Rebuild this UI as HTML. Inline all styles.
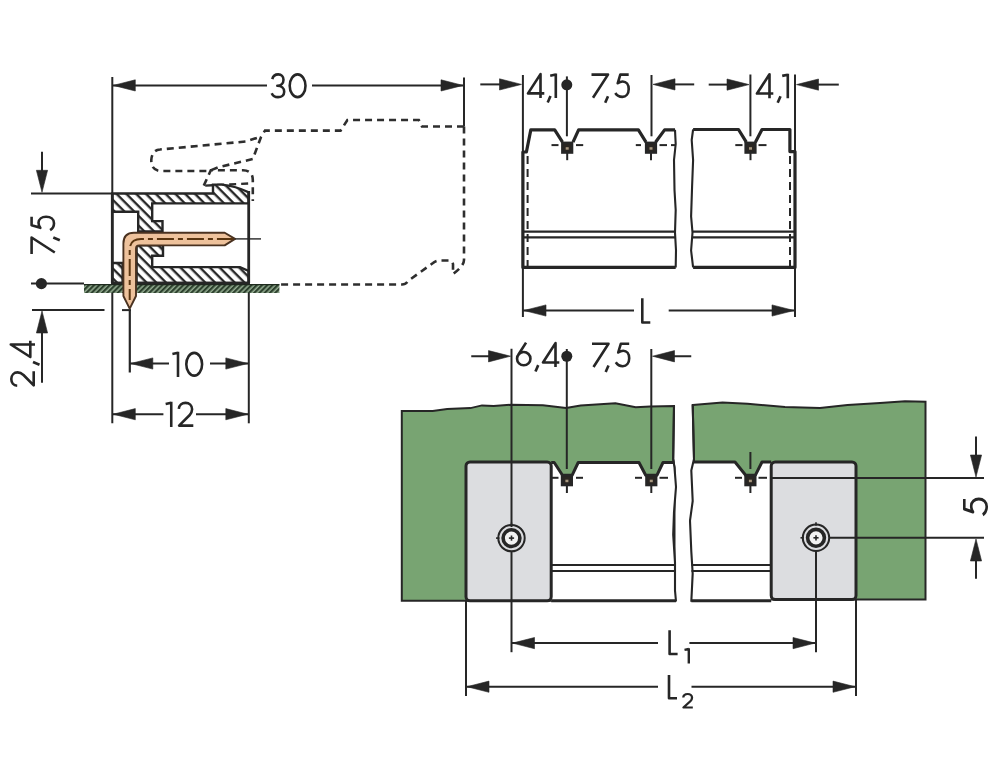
<!DOCTYPE html>
<html><head><meta charset="utf-8"><style>
html,body{margin:0;padding:0;background:#fff;overflow:hidden}
svg{display:block}
text{font-family:"Liberation Sans",sans-serif;fill:#262626}
</style></head><body>
<svg width="1000" height="772" viewBox="0 0 1000 772">
<rect width="1000" height="772" fill="#fff"/>
<defs>
<pattern id="h1" patternUnits="userSpaceOnUse" width="6.93" height="6.93" patternTransform="rotate(-45)"><rect width="6.93" height="6.93" fill="#fff"/><rect x="-0.39" y="0" width="2.3" height="6.93" fill="#222"/><rect x="6.54" y="0" width="2.3" height="6.93" fill="#222"/></pattern>
<pattern id="h2" patternUnits="userSpaceOnUse" width="3.71" height="3.71" patternTransform="rotate(45)"><rect width="3.71" height="3.71" fill="#2c402d"/><rect x="2.18" y="0" width="1.8" height="3.71" fill="#93ab90"/></pattern>
</defs>
<line x1="112.3" y1="77" x2="112.3" y2="423.3" stroke="#262626" stroke-width="2.0" />
<line x1="464" y1="77.5" x2="464" y2="126.5" stroke="#262626" stroke-width="2.0" />
<line x1="112.3" y1="85.4" x2="267" y2="85.4" stroke="#262626" stroke-width="2.0" />
<line x1="312" y1="85.4" x2="464" y2="85.4" stroke="#262626" stroke-width="2.0" />
<polygon points="113.3,85.4 135.3,79.8 135.3,91.0" fill="#262626" stroke="#262626" stroke-width="0.6" stroke-linejoin="round"/>
<polygon points="463.0,85.4 441.0,79.8 441.0,91.0" fill="#262626" stroke="#262626" stroke-width="0.6" stroke-linejoin="round"/>
<path transform="translate(270.5,73) scale(1.0,1.02)" d="M1.8,6 C2.5,2.8 5,1.3 7.8,1.3 C10.8,1.3 13,3.5 13,6.6 C13,10 10.5,12.5 6.8,12.5 C11,12.5 13.7,15 13.7,18.3 C13.7,21.6 11,23.7 7.5,23.7 C4.5,23.7 2.3,22.2 1.2,19.8" fill="none" stroke="#262626" stroke-width="2.57" stroke-linejoin="round"/>
<path transform="translate(288.4,73) scale(1.0,1.02)" d="M9.2,1.3 A7.9,11.2 0 1 1 9.2,23.7 A7.9,11.2 0 1 1 9.2,1.3 Z" fill="none" stroke="#262626" stroke-width="2.57" stroke-linejoin="round"/>
<line x1="31" y1="193.5" x2="112.3" y2="193.5" stroke="#262626" stroke-width="2.0" />
<line x1="42" y1="151.8" x2="42" y2="175" stroke="#262626" stroke-width="2.0" />
<polygon points="42.0,192.3 36.4,170.3 47.6,170.3" fill="#262626" stroke="#262626" stroke-width="0.6" stroke-linejoin="round"/>
<g transform="translate(30.3,254) rotate(-90)"><path transform="translate(0,0) scale(1.0,1)" d="M0,1.3 H16.5 L1.5,24.5" fill="none" stroke="#262626" stroke-width="2.6" stroke-linejoin="round"/><path transform="translate(13.7,0) scale(1.0,1)" d="M2.8,23 L0,29.5" fill="none" stroke="#262626" stroke-width="2.6" stroke-linejoin="round"/><path transform="translate(23,0) scale(1.0,1)" d="M14.2,1.3 H5.8 L3.2,10 C4.8,8.8 6.6,8.2 8.2,8.2 C11.8,8.2 14.2,11.5 14.2,15.8 C14.2,20.5 11.5,23.7 7.8,23.7 C4.6,23.7 2.2,22 0.8,19.8" fill="none" stroke="#262626" stroke-width="2.6" stroke-linejoin="round"/></g>
<circle cx="41.4" cy="283.6" r="5.6" fill="#262626"/>
<line x1="31" y1="283.6" x2="84" y2="283.6" stroke="#262626" stroke-width="2.0" />
<line x1="32" y1="310" x2="104.5" y2="310" stroke="#262626" stroke-width="2.0" />
<polygon points="42.0,311.0 36.4,333.0 47.6,333.0" fill="#262626" stroke="#262626" stroke-width="0.6" stroke-linejoin="round"/>
<line x1="42" y1="325" x2="42" y2="382.7" stroke="#262626" stroke-width="2.0" />
<g transform="translate(10,387) rotate(-90)"><path transform="translate(0,0) scale(1.0,1)" d="M1.3,7.2 C1.5,3.5 4.5,1.3 8,1.3 C11.8,1.3 14.6,4 14.6,7.6 C14.6,10 13.5,11.8 12,13.5 L1.6,23.7 H15.8" fill="none" stroke="#262626" stroke-width="2.6" stroke-linejoin="round"/><path transform="translate(22.2,0) scale(1.0,1)" d="M2.8,23 L0,29.5" fill="none" stroke="#262626" stroke-width="2.6" stroke-linejoin="round"/><path transform="translate(29,0) scale(1.0,1)" d="M13.5,25 V0.8 L1,20.3 H17.3" fill="none" stroke="#262626" stroke-width="2.6" stroke-linejoin="round"/></g>
<line x1="129.8" y1="310" x2="129.8" y2="372.5" stroke="#262626" stroke-width="2.2" />
<line x1="248.8" y1="283" x2="248.8" y2="423.3" stroke="#262626" stroke-width="2.0" />
<line x1="129.8" y1="363.5" x2="169" y2="363.5" stroke="#262626" stroke-width="2.0" />
<line x1="210" y1="363.5" x2="248.8" y2="363.5" stroke="#262626" stroke-width="2.0" />
<polygon points="130.8,363.5 152.8,357.9 152.8,369.1" fill="#262626" stroke="#262626" stroke-width="0.6" stroke-linejoin="round"/>
<polygon points="247.8,363.5 225.8,357.9 225.8,369.1" fill="#262626" stroke="#262626" stroke-width="0.6" stroke-linejoin="round"/>
<path transform="translate(173,351.5) scale(1.0,1.02)" d="M-0.6,2.4 L5,1.2 M5,0.2 V25" fill="none" stroke="#262626" stroke-width="2.57" stroke-linejoin="round"/>
<path transform="translate(185,351.5) scale(1.0,1.02)" d="M9.2,1.3 A7.9,11.2 0 1 1 9.2,23.7 A7.9,11.2 0 1 1 9.2,1.3 Z" fill="none" stroke="#262626" stroke-width="2.57" stroke-linejoin="round"/>
<line x1="112.3" y1="414.2" x2="163.4" y2="414.2" stroke="#262626" stroke-width="2.0" />
<line x1="196" y1="414.2" x2="248.8" y2="414.2" stroke="#262626" stroke-width="2.0" />
<polygon points="113.3,414.2 135.3,408.6 135.3,419.8" fill="#262626" stroke="#262626" stroke-width="0.6" stroke-linejoin="round"/>
<polygon points="247.8,414.2 225.8,408.6 225.8,419.8" fill="#262626" stroke="#262626" stroke-width="0.6" stroke-linejoin="round"/>
<path transform="translate(166.25,401.5) scale(1.0,1.02)" d="M-0.6,2.4 L5,1.2 M5,0.2 V25" fill="none" stroke="#262626" stroke-width="2.57" stroke-linejoin="round"/>
<path transform="translate(177.5,401.5) scale(1.0,1.02)" d="M1.3,7.2 C1.5,3.5 4.5,1.3 8,1.3 C11.8,1.3 14.6,4 14.6,7.6 C14.6,10 13.5,11.8 12,13.5 L1.6,23.7 H15.8" fill="none" stroke="#262626" stroke-width="2.57" stroke-linejoin="round"/>
<path d="M464,126.5 V260 Q464,266 453,274 L453,264 Q452,260.5 449,260.5 H440 Q436,260.5 433,263 L408,281 Q406,284.5 402,284.5 H280" stroke="#2e2e2e" stroke-width="2.6" fill="none" stroke-dasharray="7 5" stroke-linecap="butt"/>
<path d="M464,126.5 H422 L418.8,120 H347.4 L340.6,130.6 H265 L261,137 L252.8,159 L217.8,167.4 L209,171 H160 Q151,170 151.3,160 Q152,150 160,149.5 L245.8,141.5 L261,136.6" stroke="#2e2e2e" stroke-width="2.6" fill="none" stroke-dasharray="7 5" stroke-linecap="butt"/>
<path d="M203.8,185.6 L210.8,170.2 H243 Q252.8,170.5 252.8,180 V201" stroke="#2e2e2e" stroke-width="2.6" fill="none" stroke-dasharray="7 5" stroke-linecap="butt"/>
<path d="M205.2,185.6 L248.6,183.5" stroke="#2e2e2e" stroke-width="2.4" fill="none" stroke-dasharray="7 5" stroke-linecap="butt"/>
<rect x="84" y="284.4" width="195.4" height="8.6" fill="url(#h2)"/>
<path d="M84,284.6 H279.4" stroke="#1e2a1e" stroke-width="1.2" fill="none" />
<path d="M112.3,193.5 H213 V184.6 H221.5 Q236,186 248.7,192.4 V203.4 H152.2 V221.1 H162.5 V231.5 H138.2 V211.8 H112.3 Z" stroke="#262626" stroke-width="2.4" fill="url(#h1)" />
<path d="M136.6,245.4 H163 V255.7 H152.2 V267.1 H240 L248.7,271 V283 H136.6 Z" stroke="#262626" stroke-width="2.4" fill="url(#h1)" />
<path d="M112.3,263 H122.6 V283 H112.3 Z" stroke="#262626" stroke-width="2.4" fill="url(#h1)" />
<line x1="112.3" y1="193.5" x2="112.3" y2="283" stroke="#262626" stroke-width="2.8" />
<line x1="248.7" y1="191" x2="248.7" y2="283" stroke="#262626" stroke-width="2.8" />
<line x1="112.3" y1="283" x2="248.7" y2="283" stroke="#262626" stroke-width="2.4" />
<path d="M235,238.9 L224.7,232.7 H134 Q123.4,232.7 123.4,243.5 V296 L129.7,308.6 L136.0,296 V248.6 Q136.0,245.4 139.2,245.4 H224.7 Z" stroke="#4a3220" stroke-width="1.9" fill="#eec29c" stroke-linejoin="round"/>
<path d="M129.7,300 V250 Q129.7,238.9 141,238.9 H233" stroke="#5a3510" stroke-width="2.0" fill="none" stroke-dasharray="17 4 5 4" stroke-dashoffset="6"/>
<line x1="235" y1="238.9" x2="261" y2="238.9" stroke="#262626" stroke-width="1.4" />
<line x1="122" y1="310.1" x2="131" y2="310.1" stroke="#262626" stroke-width="2" />
<line x1="522.9" y1="75" x2="522.9" y2="317" stroke="#262626" stroke-width="2.0" />
<line x1="795" y1="74.5" x2="795" y2="317" stroke="#262626" stroke-width="2.0" />
<line x1="480.3" y1="84.4" x2="500" y2="84.4" stroke="#262626" stroke-width="2.0" />
<polygon points="521.5,84.4 499.5,78.8 499.5,90.0" fill="#262626" stroke="#262626" stroke-width="0.6" stroke-linejoin="round"/>
<path transform="translate(527,73.3) scale(1.0,0.988)" d="M13.5,25 V0.8 L1,20.3 H17.3" fill="none" stroke="#262626" stroke-width="2.62" stroke-linejoin="round"/>
<path transform="translate(547.7,73.3) scale(1.0,0.988)" d="M2.8,23 L0,29.5" fill="none" stroke="#262626" stroke-width="2.62" stroke-linejoin="round"/>
<path transform="translate(550.8,73.3) scale(1.0,0.988)" d="M-0.6,2.4 L5,1.2 M5,0.2 V25" fill="none" stroke="#262626" stroke-width="2.62" stroke-linejoin="round"/>
<circle cx="566.8" cy="84.8" r="5.5" fill="#262626"/>
<line x1="566.9" y1="76.4" x2="566.9" y2="136.3" stroke="#262626" stroke-width="2.0" />
<path transform="translate(591.5,73.3) scale(1.0,0.996)" d="M0,1.3 H16.5 L1.5,24.5" fill="none" stroke="#262626" stroke-width="2.61" stroke-linejoin="round"/>
<path transform="translate(605.2,73.3) scale(1.0,0.996)" d="M2.8,23 L0,29.5" fill="none" stroke="#262626" stroke-width="2.61" stroke-linejoin="round"/>
<path transform="translate(614.5,73.3) scale(1.0,0.996)" d="M14.2,1.3 H5.8 L3.2,10 C4.8,8.8 6.6,8.2 8.2,8.2 C11.8,8.2 14.2,11.5 14.2,15.8 C14.2,20.5 11.5,23.7 7.8,23.7 C4.6,23.7 2.2,22 0.8,19.8" fill="none" stroke="#262626" stroke-width="2.61" stroke-linejoin="round"/>
<line x1="651.5" y1="75" x2="651.5" y2="136.3" stroke="#262626" stroke-width="2.0" />
<polygon points="653.0,84.4 675.0,78.8 675.0,90.0" fill="#262626" stroke="#262626" stroke-width="0.6" stroke-linejoin="round"/>
<line x1="670" y1="84.4" x2="694.2" y2="84.4" stroke="#262626" stroke-width="2.0" />
<line x1="708.7" y1="84.6" x2="730" y2="84.6" stroke="#262626" stroke-width="2.0" />
<polygon points="749.0,84.6 727.0,79.0 727.0,90.2" fill="#262626" stroke="#262626" stroke-width="0.6" stroke-linejoin="round"/>
<line x1="750.4" y1="74.5" x2="750.4" y2="136.3" stroke="#262626" stroke-width="2.0" />
<path transform="translate(756,73.5) scale(1.0,0.988)" d="M13.5,25 V0.8 L1,20.3 H17.3" fill="none" stroke="#262626" stroke-width="2.62" stroke-linejoin="round"/>
<path transform="translate(777.7,73.5) scale(1.0,0.988)" d="M2.8,23 L0,29.5" fill="none" stroke="#262626" stroke-width="2.62" stroke-linejoin="round"/>
<path transform="translate(782.8,73.5) scale(1.0,0.988)" d="M-0.6,2.4 L5,1.2 M5,0.2 V25" fill="none" stroke="#262626" stroke-width="2.62" stroke-linejoin="round"/>
<polygon points="796.5,84.6 818.5,79.0 818.5,90.2" fill="#262626" stroke="#262626" stroke-width="0.6" stroke-linejoin="round"/>
<line x1="815" y1="84.6" x2="838.8" y2="84.6" stroke="#262626" stroke-width="2.0" />
<line x1="522.9" y1="310.5" x2="634" y2="310.5" stroke="#262626" stroke-width="2.0" />
<line x1="668.7" y1="310.5" x2="795" y2="310.5" stroke="#262626" stroke-width="2.0" />
<polygon points="524.0,310.5 546.0,304.9 546.0,316.1" fill="#262626" stroke="#262626" stroke-width="0.6" stroke-linejoin="round"/>
<polygon points="794.0,310.5 772.0,304.9 772.0,316.1" fill="#262626" stroke="#262626" stroke-width="0.6" stroke-linejoin="round"/>
<path transform="translate(641,298.3) scale(1.0,1.02)" d="M1.3,0 V23.7 H9.3" fill="none" stroke="#262626" stroke-width="2.57" stroke-linejoin="round"/>
<path d="M675.7,267.4 H522.9 V152 H526.4 L530.8,129.9 H554.7 L562.5,142.2 M573,142.2 L578.6,129.9 H638.4 L646,142.2 M655.5,142.2 L664.6,129.9 H675" stroke="#262626" stroke-width="3.2" fill="none" stroke-linejoin="round"/>
<path d="M675,129.9 L675.7,144 L674,160 L674.5,190 L675.7,210 L675,232.5 L676,250.5 L675.7,267.4" stroke="#262626" stroke-width="2.1" fill="none" stroke-linejoin="round"/>
<path d="M693.1,129.5 H738.5 L746.3,142.2 M755.4,142.2 L762,129.5 H789.9 V151.6 H795 V267.4 H693.1" stroke="#262626" stroke-width="3.2" fill="none" stroke-linejoin="round"/>
<path d="M693.1,129.5 L691.7,140 L693.1,160 L692.1,186 L691.1,216.4 L692.5,232.5 L691.1,250.5 L693.1,267.4" stroke="#262626" stroke-width="2.1" fill="none" stroke-linejoin="round"/>
<line x1="522.9" y1="231.6" x2="675" y2="231.6" stroke="#262626" stroke-width="2.2" />
<line x1="522.9" y1="237.4" x2="675" y2="237.4" stroke="#262626" stroke-width="2.2" />
<line x1="692.5" y1="231.6" x2="795" y2="231.6" stroke="#262626" stroke-width="2.2" />
<line x1="692.5" y1="237.4" x2="795" y2="237.4" stroke="#262626" stroke-width="2.2" />
<line x1="527.6" y1="156" x2="527.6" y2="266" stroke="#262626" stroke-width="2.0" stroke-dasharray="8 5"/>
<line x1="790" y1="156" x2="790" y2="266" stroke="#262626" stroke-width="2.0" stroke-dasharray="8 5"/>
<rect x="562.40" y="142.90" width="9.6" height="9.6" fill="#2a2622" stroke="#262626" stroke-width="2.6"/>
<rect x="565.70" y="147.20" width="3" height="2.5" fill="#a89880"/>
<line x1="567.2" y1="152" x2="567.2" y2="160.2" stroke="#262626" stroke-width="2.0" />
<rect x="646.20" y="142.90" width="9.6" height="9.6" fill="#2a2622" stroke="#262626" stroke-width="2.6"/>
<rect x="649.50" y="147.20" width="3" height="2.5" fill="#a89880"/>
<line x1="651" y1="152" x2="651" y2="160.2" stroke="#262626" stroke-width="2.0" />
<rect x="745.70" y="142.90" width="9.6" height="9.6" fill="#2a2622" stroke="#262626" stroke-width="2.6"/>
<rect x="749.00" y="147.20" width="3" height="2.5" fill="#a89880"/>
<line x1="750.5" y1="152" x2="750.5" y2="160.2" stroke="#262626" stroke-width="2.0" />
<line x1="551.5" y1="145.1" x2="558.5" y2="145.1" stroke="#262626" stroke-width="2.0" />
<line x1="576" y1="145.1" x2="583.2" y2="145.1" stroke="#262626" stroke-width="2.0" />
<line x1="635.8" y1="145.1" x2="641" y2="145.1" stroke="#262626" stroke-width="2.0" />
<line x1="659.5" y1="145.1" x2="667" y2="145.1" stroke="#262626" stroke-width="2.0" />
<line x1="671" y1="145.1" x2="675" y2="145.1" stroke="#262626" stroke-width="2.0" />
<line x1="735.3" y1="145.1" x2="742.5" y2="145.1" stroke="#262626" stroke-width="2.0" />
<line x1="758.5" y1="145.1" x2="766.5" y2="145.1" stroke="#262626" stroke-width="2.0" />
<path d="M401.8,411 L432.7,411 L447.2,409 L470.4,408.1 L482,405.4 L493.6,406 L511,404.8 L542.9,405.2 L566.1,408.1 L580.6,405.4 L615.4,403.3 L635.7,407.2 L650.2,406.6 L674,406 L673.2,459 L674.5,467.6 V600.8 H401.8 Z" stroke="#262626" stroke-width="2.0" fill="#78a472" />
<path d="M692.7,405 L722.5,402.5 L747.5,403.8 L785,407 L820,408 L847.5,405 L880,403 L905,401.3 L925.5,401.8 V599.6 H692.7 L694,459 Z" stroke="#262626" stroke-width="2.0" fill="#78a472" />
<path d="M551.2,462.5 H554.2 L562.5,475.2 H572.2 L578.2,462.5 H639 L645.7,475.2 H657 L663,462.5 H673.2 L674.5,467.6 L676,487 L674,512 L673.2,534.7 L675,562.6 L675,590.5 L676,600.8 H551.2 Z" stroke="none" stroke-width="0" fill="#fff" />
<path d="M676,600.8 H551.2 M551.2,462.5 H554.2 L562.5,475.2 H572.2 L578.2,462.5 H639 L645.7,475.2 H657 L663,462.5 H673.2" stroke="#262626" stroke-width="3.0" fill="none" stroke-linejoin="round"/>
<path d="M674,406 L673.2,459 L674.5,467.6 L676,487 L674,512 L673.2,534.7 L675,562.6 L675,590.5 L676,601.5" stroke="#262626" stroke-width="2.1" fill="none" stroke-linejoin="round"/>
<path d="M694,462 H735 L745.7,475.2 H755.4 L762,462 H771.2 V600.8 H691.3 L692.7,573.8 L691.3,551.4 L690,520.7 L692.7,501 L691.3,470.4 L694,459 Z" stroke="none" stroke-width="0" fill="#fff" />
<path d="M694,462 H735 L745.7,475.2 H755.4 L762,462 H771.2 M771.2,600.8 H691.3" stroke="#262626" stroke-width="3.0" fill="none" stroke-linejoin="round"/>
<path d="M692.7,404.8 L694,459 L691.3,470.4 L692.7,501 L690,520.7 L691.3,551.4 L692.7,573.8 L691.3,601.7" stroke="#262626" stroke-width="2.1" fill="none" stroke-linejoin="round"/>
<line x1="551.2" y1="565" x2="675" y2="565" stroke="#262626" stroke-width="2.2" />
<line x1="551.2" y1="571" x2="675" y2="571" stroke="#262626" stroke-width="2.2" />
<line x1="691.5" y1="565" x2="771" y2="565" stroke="#262626" stroke-width="2.2" />
<line x1="691.5" y1="571" x2="771" y2="571" stroke="#262626" stroke-width="2.2" />
<rect x="562.10" y="475.40" width="9.6" height="9.6" fill="#2a2622" stroke="#262626" stroke-width="2.6"/>
<rect x="565.40" y="479.70" width="3" height="2.5" fill="#a89880"/>
<rect x="646.50" y="475.40" width="9.6" height="9.6" fill="#2a2622" stroke="#262626" stroke-width="2.6"/>
<rect x="649.80" y="479.70" width="3" height="2.5" fill="#a89880"/>
<rect x="745.60" y="475.40" width="9.6" height="9.6" fill="#2a2622" stroke="#262626" stroke-width="2.6"/>
<rect x="748.90" y="479.70" width="3" height="2.5" fill="#a89880"/>
<line x1="551.5" y1="477.8" x2="558.5" y2="477.8" stroke="#262626" stroke-width="2.0" />
<line x1="576" y1="477.8" x2="583" y2="477.8" stroke="#262626" stroke-width="2.0" />
<line x1="635" y1="477.8" x2="642" y2="477.8" stroke="#262626" stroke-width="2.0" />
<line x1="659.5" y1="477.8" x2="668" y2="477.8" stroke="#262626" stroke-width="2.0" />
<line x1="735" y1="477.8" x2="742" y2="477.8" stroke="#262626" stroke-width="2.0" />
<line x1="758.5" y1="477.8" x2="767" y2="477.8" stroke="#262626" stroke-width="2.0" />
<rect x="466" y="462" width="85.2" height="138.8" rx="4" fill="#dcdde0" stroke="#262626" stroke-width="3"/>
<rect x="771.2" y="462" width="84.8" height="137.6" rx="4" fill="#dcdde0" stroke="#262626" stroke-width="3"/>
<circle cx="511.5" cy="538.1" r="13.2" fill="none" stroke="#262626" stroke-width="2.0"/>
<circle cx="511.5" cy="538.1" r="8.4" fill="#f2f2f2" stroke="#262626" stroke-width="3.6"/>
<line x1="508.9" y1="538.1" x2="514.1" y2="538.1" stroke="#262626" stroke-width="1.6" />
<line x1="511.5" y1="535.5" x2="511.5" y2="540.7" stroke="#262626" stroke-width="1.6" />
<line x1="496.0" y1="538.1" x2="499.5" y2="538.1" stroke="#262626" stroke-width="1.6" />
<line x1="511.5" y1="522.6" x2="511.5" y2="526.1" stroke="#262626" stroke-width="1.6" />
<circle cx="816" cy="537.8" r="13.2" fill="none" stroke="#262626" stroke-width="2.0"/>
<circle cx="816" cy="537.8" r="8.4" fill="#f2f2f2" stroke="#262626" stroke-width="3.6"/>
<line x1="813.4" y1="537.8" x2="818.6" y2="537.8" stroke="#262626" stroke-width="1.6" />
<line x1="816" y1="535.1999999999999" x2="816" y2="540.4" stroke="#262626" stroke-width="1.6" />
<line x1="800.5" y1="537.8" x2="804" y2="537.8" stroke="#262626" stroke-width="1.6" />
<line x1="816" y1="522.3" x2="816" y2="525.8" stroke="#262626" stroke-width="1.6" />
<line x1="511.5" y1="348.75" x2="511.5" y2="527" stroke="#262626" stroke-width="2.0" />
<line x1="511.5" y1="551" x2="511.5" y2="652.2" stroke="#262626" stroke-width="2.0" />
<line x1="566.8" y1="349" x2="566.8" y2="469" stroke="#262626" stroke-width="2.0" />
<line x1="651.3" y1="349" x2="651.3" y2="469" stroke="#262626" stroke-width="2.0" />
<line x1="750.4" y1="452" x2="750.4" y2="469" stroke="#262626" stroke-width="2.0" />
<line x1="566.9" y1="485" x2="566.9" y2="493" stroke="#262626" stroke-width="2.0" />
<line x1="651.3" y1="485" x2="651.3" y2="493" stroke="#262626" stroke-width="2.0" />
<line x1="750.4" y1="485" x2="750.4" y2="493" stroke="#262626" stroke-width="2.0" />
<line x1="816" y1="551" x2="816" y2="652.2" stroke="#262626" stroke-width="2.0" />
<line x1="466" y1="600" x2="466" y2="696" stroke="#262626" stroke-width="2.0" />
<line x1="856" y1="599" x2="856" y2="696" stroke="#262626" stroke-width="2.0" />
<line x1="771" y1="478" x2="984" y2="478" stroke="#262626" stroke-width="2.0" />
<line x1="829" y1="537.8" x2="984" y2="537.8" stroke="#262626" stroke-width="2.0" />
<line x1="471.25" y1="356.25" x2="490" y2="356.25" stroke="#262626" stroke-width="2.0" />
<polygon points="510.5,356.2 488.5,350.6 488.5,361.9" fill="#262626" stroke="#262626" stroke-width="0.6" stroke-linejoin="round"/>
<path transform="translate(515.75,342.3) scale(1.0,0.992)" d="M10.3,0.3 L2.4,12.8 M8,9.8 A6.7,6.7 0 1 1 8,23.2 A6.7,6.7 0 1 1 8,9.8 Z" fill="none" stroke="#262626" stroke-width="2.61" stroke-linejoin="round"/>
<path transform="translate(535.45,342.3) scale(1.0,0.992)" d="M2.8,23 L0,29.5" fill="none" stroke="#262626" stroke-width="2.61" stroke-linejoin="round"/>
<path transform="translate(542,342.3) scale(1.0,0.992)" d="M13.5,25 V0.8 L1,20.3 H17.3" fill="none" stroke="#262626" stroke-width="2.61" stroke-linejoin="round"/>
<circle cx="566.8" cy="356.25" r="5.5" fill="#262626"/>
<path transform="translate(592,342.5) scale(1.0,1.0)" d="M0,1.3 H16.5 L1.5,24.5" fill="none" stroke="#262626" stroke-width="2.60" stroke-linejoin="round"/>
<path transform="translate(605.7,342.5) scale(1.0,1.0)" d="M2.8,23 L0,29.5" fill="none" stroke="#262626" stroke-width="2.60" stroke-linejoin="round"/>
<path transform="translate(615,342.5) scale(1.0,1.0)" d="M14.2,1.3 H5.8 L3.2,10 C4.8,8.8 6.6,8.2 8.2,8.2 C11.8,8.2 14.2,11.5 14.2,15.8 C14.2,20.5 11.5,23.7 7.8,23.7 C4.6,23.7 2.2,22 0.8,19.8" fill="none" stroke="#262626" stroke-width="2.60" stroke-linejoin="round"/>
<polygon points="652.5,356.2 674.5,350.6 674.5,361.9" fill="#262626" stroke="#262626" stroke-width="0.6" stroke-linejoin="round"/>
<line x1="670" y1="356.25" x2="691.25" y2="356.25" stroke="#262626" stroke-width="2.0" />
<line x1="976" y1="436.4" x2="976" y2="460" stroke="#262626" stroke-width="2.0" />
<polygon points="976.0,477.0 970.4,455.0 981.6,455.0" fill="#262626" stroke="#262626" stroke-width="0.6" stroke-linejoin="round"/>
<polygon points="976.0,539.0 970.4,561.0 981.6,561.0" fill="#262626" stroke="#262626" stroke-width="0.6" stroke-linejoin="round"/>
<line x1="976" y1="555" x2="976" y2="578.8" stroke="#262626" stroke-width="2.0" />
<g transform="translate(963,515.8) rotate(-90)"><path transform="translate(0,0) scale(1.18,1)" d="M14.2,1.3 H5.8 L3.2,10 C4.8,8.8 6.6,8.2 8.2,8.2 C11.8,8.2 14.2,11.5 14.2,15.8 C14.2,20.5 11.5,23.7 7.8,23.7 C4.6,23.7 2.2,22 0.8,19.8" fill="none" stroke="#262626" stroke-width="2.6" stroke-linejoin="round"/></g>
<line x1="511.5" y1="643.1" x2="658" y2="643.1" stroke="#262626" stroke-width="2.0" />
<line x1="689.4" y1="643.1" x2="816" y2="643.1" stroke="#262626" stroke-width="2.0" />
<polygon points="512.5,643.1 534.5,637.5 534.5,648.7" fill="#262626" stroke="#262626" stroke-width="0.6" stroke-linejoin="round"/>
<polygon points="815.0,643.1 793.0,637.5 793.0,648.7" fill="#262626" stroke="#262626" stroke-width="0.6" stroke-linejoin="round"/>
<path transform="translate(668.3,630.2) scale(1.0,1.004)" d="M1.3,0 V23.7 H9.3" fill="none" stroke="#262626" stroke-width="2.59" stroke-linejoin="round"/>
<path d="M684.5,649.9 L688.8,649 M688.8,648.3 V663.5" stroke="#262626" stroke-width="2.4" fill="none" />
<line x1="466" y1="686.7" x2="658" y2="686.7" stroke="#262626" stroke-width="2.0" />
<line x1="691.5" y1="686.7" x2="856" y2="686.7" stroke="#262626" stroke-width="2.0" />
<polygon points="467.0,686.7 489.0,681.1 489.0,692.3" fill="#262626" stroke="#262626" stroke-width="0.6" stroke-linejoin="round"/>
<polygon points="855.0,686.7 833.0,681.1 833.0,692.3" fill="#262626" stroke="#262626" stroke-width="0.6" stroke-linejoin="round"/>
<path transform="translate(667.7,675.1) scale(1.0,0.98)" d="M1.3,0 V23.7 H9.3" fill="none" stroke="#262626" stroke-width="2.63" stroke-linejoin="round"/>
<path transform="translate(682.4,693.2) scale(0.66,0.604)" d="M1.3,7.2 C1.5,3.5 4.5,1.3 8,1.3 C11.8,1.3 14.6,4 14.6,7.6 C14.6,10 13.5,11.8 12,13.5 L1.6,23.7 H15.8" fill="none" stroke="#262626" stroke-width="3.48" stroke-linejoin="round"/>
</svg>
</body></html>
